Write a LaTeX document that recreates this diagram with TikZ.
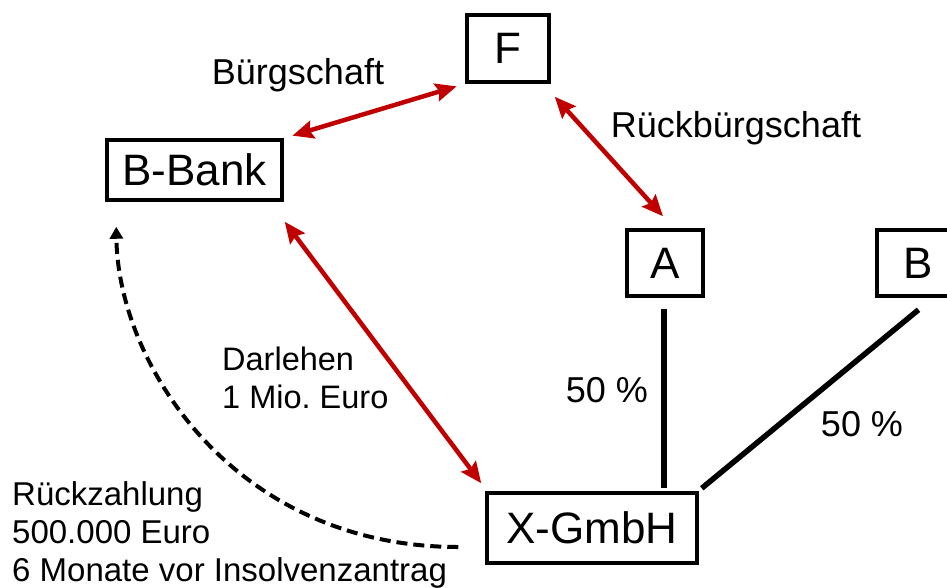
\documentclass[tikz,border=0pt]{standalone}
\usepackage{fontspec}
\setmainfont{Liberation Sans}
\usetikzlibrary{arrows.meta,calc}
\definecolor{darkred}{HTML}{C00000}
\frenchspacing
\tikzset{
  box/.style={draw=black, line width=3.5pt, inner sep=0pt, font=\fontsize{44}{50}\selectfont},
  lbl/.style={inner sep=0pt, font=\fontsize{32.5}{38}\selectfont, align=left},
  biglbl/.style={inner sep=0pt, font=\fontsize{36}{40}\selectfont},
  redarrow/.style={draw=darkred, line width=4.5pt, {Stealth[length=21pt,width=18pt,inset=3pt]}-{Stealth[length=21pt,width=18pt,inset=3pt]}},
  blackline/.style={draw=black, line width=5.5pt},
  dasharrow/.style={draw=black, line width=4pt, dash pattern=on 11pt off 6pt, -{Triangle[length=12pt,width=13pt]}}
}
\begin{document}
\begin{tikzpicture}[x=1pt,y=-1pt]
\useasboundingbox (0,0) rectangle (947,587);
\clip (0,0) rectangle (947,587);
% boxes
\node[box, minimum width=82pt, minimum height=67pt] (F) at (508,48.5) {F};
\node[box, minimum width=175pt, minimum height=60pt] (bbank) at (194.5,170) {B-Bank};
\node[box, minimum width=76pt, minimum height=66pt] (A) at (665,263) {A};
\node[box, minimum width=83pt, minimum height=66pt] (B) at (918.5,263) {B};
\node[box, minimum width=210pt, minimum height=70pt] (xg) at (592,528) {X-GmbH};
% labels
\node[biglbl] (lbuerg) at (298,75) {Bürgschaft};
\node[biglbl] (lrueck) at (736,128) {Rückbürgschaft};
\node[lbl, anchor=west] (ldarl) at (222,378) {Darlehen\\1 Mio. Euro};
\node[biglbl] (lfifa) at (607,390) {50 \%};
\node[biglbl] (lfifb) at (862,424) {50 \%};
\node[lbl, font=\fontsize{33}{38}\selectfont, anchor=west] (lrz) at (12,535) {Rückzahlung\\500.000 Euro\\6 Monate vor Insolvenzantrag};
% red arrows
\draw[redarrow, shorten <=9pt, shorten >=9pt] (bbank.north east) -- (F.south west);
\draw[redarrow] ($(F.south east)+(4,13)$) -- ($(A.north)+(-2,-12)$);
\draw[redarrow] ($(bbank.south east)+(1,20)$) -- ($(xg.north west)+(-4,-8)$);
% black lines
\draw[blackline, shorten <=11pt, shorten >=3pt] ($(A.south)+(-1,0)$) -- ($(A.south |- xg.north)+(-1,0)$);
\draw[blackline] ($(B.south)+(0,12)$) -- ($(xg.north east)+(3,-3)$);
% dashed arrow
\coordinate (ds) at ($(xg.west)+(-27,19)$);
\coordinate (de) at ($(bbank.south west)+(11,25)$);
\draw[dasharrow] (ds) .. controls (235,547) and (118,365) .. (de);
\end{tikzpicture}
\end{document}
